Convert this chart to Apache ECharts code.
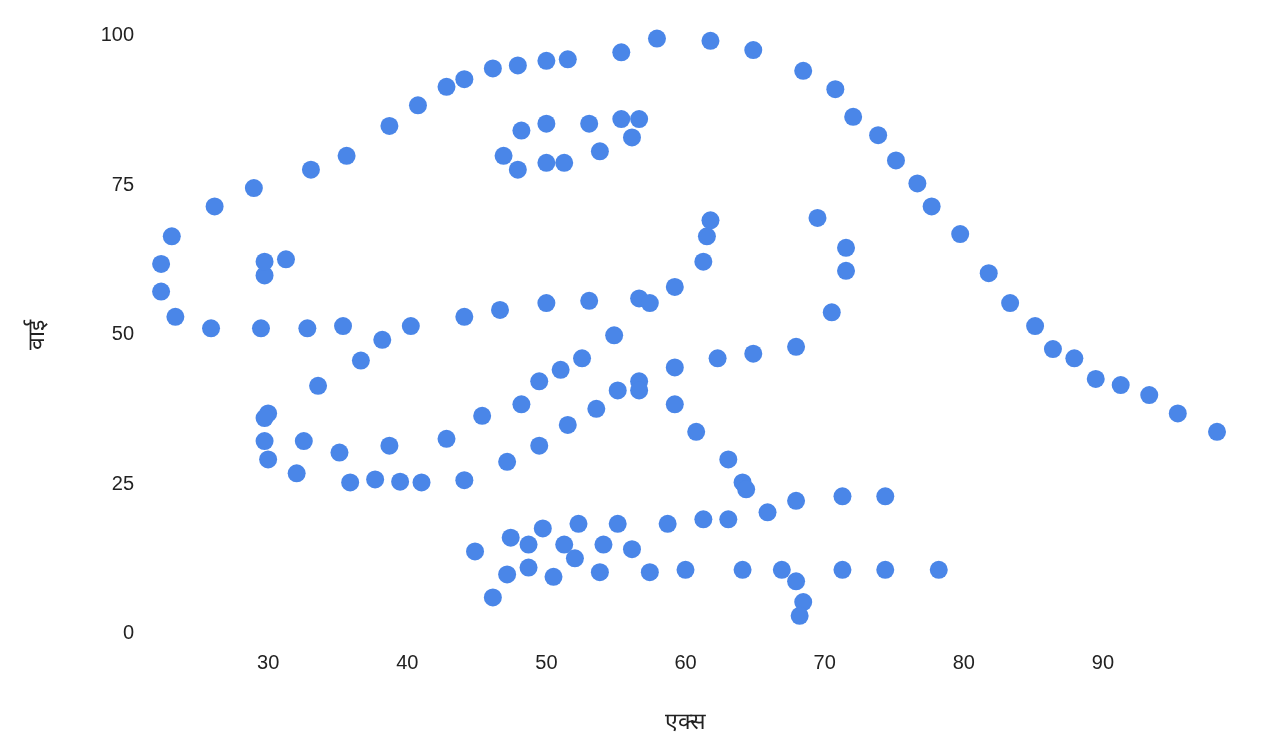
<!DOCTYPE html><html><head><meta charset="utf-8"><script src="https://cdn.jsdelivr.net/npm/echarts@6/dist/echarts.min.js"></script></head><body style="margin:0"><div id="c" style="width:1268px;height:750px"></div><script>
const xs=[55.3846,51.5385,46.1538,42.8205,40.7692,38.7179,35.641,33.0769,28.9744,26.1538,23.0769,22.3077,22.3077,23.3333,25.8974,29.4872,32.8205,35.3846,40.2564,44.1026,46.6667,50,53.0769,56.6667,59.2308,61.2821,61.5385,61.7949,57.4359,54.8718,52.5641,48.2051,49.4872,51.0256,45.3846,42.8205,38.7179,35.1282,32.5641,30,33.5897,36.6667,38.2051,29.7436,29.7436,30,32.0513,35.8974,41.0256,44.1026,47.1795,49.4872,51.5385,53.5897,55.1282,56.6667,59.2308,62.3077,64.8718,67.9487,70.5128,71.5385,71.5385,69.4872,46.9231,48.2051,50,53.0769,55.3846,56.6667,56.1538,53.8462,51.2821,50,47.9487,29.7436,29.7436,31.2821,57.9487,61.7949,64.8718,68.4615,70.7692,72.0513,73.8462,75.1282,76.6667,77.6923,79.7436,81.7949,83.3333,85.1282,86.4103,87.9487,89.4872,93.3333,95.3846,98.2051,56.6667,59.2308,60.7692,63.0769,64.1026,64.359,74.359,71.2821,67.9487,65.8974,63.0769,61.2821,58.7179,55.1282,52.3077,49.7436,47.4359,44.8718,48.7179,51.2821,54.1026,56.1538,52.0513,48.7179,47.1795,46.1538,50.5128,53.8462,57.4359,60,64.1026,66.9231,71.2821,74.359,78.2051,67.9487,68.4615,68.2051,37.6923,39.4872,91.2821,50,47.9487,44.1026];
const ys=[97.1795,96.0256,94.4872,91.4103,88.3333,84.8718,79.8718,77.5641,74.4872,71.4103,66.4103,61.7949,57.1795,52.9487,51.0256,51.0256,51.0256,51.4103,51.4103,52.9487,54.1026,55.2564,55.641,56.0256,57.9487,62.1795,66.4103,69.1026,55.2564,49.8718,46.0256,38.3333,42.1795,44.1026,36.4103,32.5641,31.4103,30.2564,32.1795,36.7949,41.4103,45.641,49.1026,36.0256,32.1795,29.1026,26.7949,25.2564,25.2564,25.641,28.718,31.4103,34.8718,37.5641,40.641,42.1795,44.4872,46.0256,46.7949,47.9487,53.718,60.641,64.4872,69.4872,79.8718,84.1026,85.2564,85.2564,86.0256,86.0256,82.9487,80.641,78.718,78.718,77.5641,59.8718,62.1795,62.5641,99.4872,99.1026,97.5641,94.1026,91.0256,86.4103,83.3333,79.1026,75.2564,71.4103,66.7949,60.2564,55.2564,51.4103,47.5641,46.0256,42.5641,39.8718,36.7949,33.718,40.641,38.3333,33.718,29.1026,25.2564,24.1026,22.9487,22.9487,22.1795,20.2564,19.1026,19.1026,18.3333,18.3333,18.3333,17.5641,16.0256,13.7179,14.8718,14.8718,14.8718,14.1026,12.5641,11.0256,9.8718,6.0256,9.4872,10.2564,10.2564,10.641,10.641,10.641,10.641,10.641,10.641,8.718,5.2564,2.9487,25.7692,25.3846,41.5385,95.7692,95,92.6923];
const xTicks=[30,40,50,60,70,80,90];
const yTicks=[0,25,50,75,100];
const data=xs.map((x,i)=>[x,ys[i]]);
const ch=echarts.init(document.getElementById('c'));
const lbl={color:'#222',fontSize:20,fontFamily:'Liberation Sans, Arial, sans-serif'};
ch.setOption({animation:false,
grid:{left:129,right:26,top:35.5,bottom:116.5},
xAxis:{type:'value',min:20,max:100,interval:10,name:'एक्स',nameLocation:'middle',nameGap:78,nameTextStyle:{fontSize:23,color:'#222'},
 axisLine:{show:false},axisTick:{show:false},splitLine:{show:false},
 axisLabel:Object.assign({margin:20,formatter:v=>xTicks.includes(v)?String(v):''},lbl)},
yAxis:{type:'value',min:0,max:100,interval:25,name:'वाई',nameLocation:'middle',nameGap:80,nameTextStyle:{fontSize:23,color:'#222'},
 axisLine:{show:false},axisTick:{show:false},splitLine:{show:false},
 axisLabel:Object.assign({margin:-5,formatter:v=>yTicks.includes(v)?String(v):''},lbl)},
series:[{type:'scatter',data:data,symbolSize:18,itemStyle:{color:'#4a86e8',opacity:1}}]});
</script></body></html>
